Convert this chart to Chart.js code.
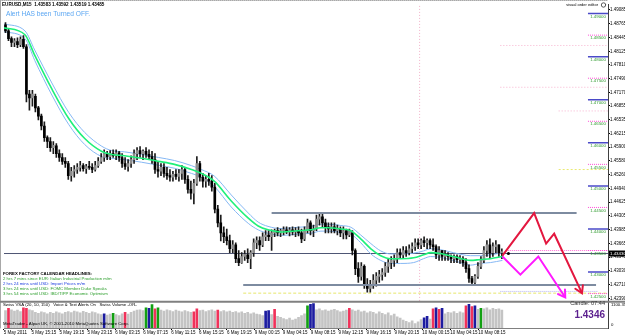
<!DOCTYPE html>
<html><head><meta charset="utf-8">
<script src="https://cdn.jsdelivr.net/npm/chart.js@4.4.1/dist/chart.umd.min.js"></script>
<style>html,body{margin:0;padding:0;background:#fff;overflow:hidden}canvas{display:block}</style>
</head><body>
<canvas id="c" width="625" height="336"></canvas>
<script>
const FONT = "'Liberation Sans', Arial, sans-serif";

// ---- price candles (EURUSD M15) ----
const opens = [1.4874,1.4860,1.4842,1.4833,1.4835,1.4828,1.4840,1.4823,1.4713,1.4704,
1.4708,1.4681,1.4662,1.4639,1.4612,1.4603,1.4589,1.4593,1.4575,1.4566,
1.4557,1.4552,1.4524,1.4534,1.4538,1.4543,1.4547,1.4540,1.4545,1.4543,
1.4538,1.4547,1.4557,1.4566,1.4575,1.4568,1.4575,1.4570,1.4577,1.4566,
1.4552,1.4545,1.4552,1.4561,1.4575,1.4582,1.4575,1.4580,1.4573,1.4568,
1.4561,1.4538,1.4534,1.4543,1.4529,1.4524,1.4520,1.4527,1.4522,1.4529,
1.4538,1.4515,1.4492,1.4483,1.4506,1.4552,1.4520,1.4511,1.4515,1.4511,
1.4497,1.4446,1.4414,1.4391,1.4382,1.4373,1.4354,1.4363,1.4331,1.4322,
1.4336,1.4340,1.4331,1.4345,1.4368,1.4373,1.4363,1.4382,1.4386,1.4382,
1.4391,1.4396,1.4391,1.4396,1.4398,1.4393,1.4398,1.4393,1.4396,1.4391,
1.4377,1.4396,1.4414,1.4396,1.4400,1.4423,1.4428,1.4414,1.4405,1.4400,
1.4405,1.4396,1.4400,1.4391,1.4396,1.4386,1.4391,1.4350,1.4308,1.4290,
1.4313,1.4271,1.4262,1.4271,1.4281,1.4290,1.4294,1.4299,1.4313,1.4322,
1.4327,1.4331,1.4345,1.4340,1.4350,1.4345,1.4354,1.4359,1.4368,1.4363,
1.4373,1.4368,1.4373,1.4363,1.4359,1.4340,1.4350,1.4336,1.4340,1.4336,
1.4331,1.4336,1.4329,1.4331,1.4322,1.4308,1.4285,1.4276,1.4290,1.4313,
1.4327,1.4350,1.4363,1.4345,1.4359,1.4363,1.4345];
const highs = [1.4879,1.4865,1.4846,1.4842,1.4844,1.4846,1.4849,1.4828,1.4722,1.4722,
1.4713,1.4685,1.4667,1.4649,1.4616,1.4612,1.4603,1.4598,1.4584,1.4575,
1.4566,1.4557,1.4543,1.4547,1.4552,1.4557,1.4552,1.4550,1.4557,1.4552,
1.4557,1.4566,1.4575,1.4584,1.4580,1.4582,1.4584,1.4584,1.4580,1.4575,
1.4566,1.4561,1.4570,1.4584,1.4589,1.4591,1.4584,1.4589,1.4584,1.4580,
1.4575,1.4557,1.4552,1.4552,1.4543,1.4538,1.4534,1.4538,1.4538,1.4547,
1.4543,1.4524,1.4511,1.4515,1.4568,1.4557,1.4529,1.4524,1.4529,1.4524,
1.4506,1.4455,1.4432,1.4405,1.4400,1.4386,1.4373,1.4368,1.4350,1.4345,
1.4350,1.4354,1.4350,1.4377,1.4382,1.4382,1.4391,1.4396,1.4396,1.4398,
1.4400,1.4403,1.4400,1.4405,1.4405,1.4403,1.4405,1.4403,1.4405,1.4400,
1.4405,1.4423,1.4419,1.4409,1.4432,1.4437,1.4437,1.4423,1.4414,1.4414,
1.4414,1.4409,1.4405,1.4405,1.4400,1.4400,1.4396,1.4354,1.4322,1.4322,
1.4317,1.4285,1.4281,1.4294,1.4299,1.4304,1.4308,1.4322,1.4331,1.4336,
1.4340,1.4354,1.4354,1.4359,1.4359,1.4363,1.4368,1.4377,1.4377,1.4377,
1.4382,1.4377,1.4377,1.4377,1.4363,1.4359,1.4350,1.4350,1.4345,1.4340,
1.4340,1.4340,1.4338,1.4336,1.4331,1.4317,1.4290,1.4294,1.4322,1.4336,
1.4359,1.4373,1.4377,1.4368,1.4373,1.4363,1.4354];
const lows = [1.4856,1.4837,1.4823,1.4823,1.4821,1.4823,1.4819,1.4695,1.4676,1.4685,
1.4672,1.4653,1.4630,1.4603,1.4589,1.4580,1.4575,1.4566,1.4557,1.4550,
1.4543,1.4515,1.4511,1.4520,1.4529,1.4534,1.4534,1.4529,1.4538,1.4531,
1.4534,1.4543,1.4552,1.4557,1.4561,1.4561,1.4566,1.4561,1.4557,1.4543,
1.4538,1.4534,1.4543,1.4552,1.4561,1.4566,1.4561,1.4566,1.4561,1.4552,
1.4529,1.4520,1.4524,1.4520,1.4515,1.4511,1.4511,1.4515,1.4511,1.4515,
1.4506,1.4483,1.4469,1.4458,1.4501,1.4511,1.4497,1.4497,1.4501,1.4488,
1.4437,1.4405,1.4372,1.4368,1.4363,1.4345,1.4345,1.4322,1.4315,1.4320,
1.4327,1.4322,1.4308,1.4336,1.4354,1.4350,1.4359,1.4373,1.4373,1.4350,
1.4382,1.4384,1.4382,1.4386,1.4389,1.4384,1.4386,1.4382,1.4384,1.4368,
1.4373,1.4391,1.4386,1.4382,1.4396,1.4409,1.4405,1.4391,1.4391,1.4391,
1.4391,1.4386,1.4382,1.4377,1.4377,1.4382,1.4340,1.4294,1.4276,1.4281,
1.4262,1.4253,1.4253,1.4262,1.4267,1.4276,1.4281,1.4290,1.4299,1.4308,
1.4313,1.4322,1.4331,1.4331,1.4336,1.4340,1.4345,1.4350,1.4354,1.4354,
1.4359,1.4354,1.4354,1.4350,1.4331,1.4327,1.4327,1.4327,1.4327,1.4322,
1.4322,1.4322,1.4320,1.4313,1.4299,1.4276,1.4271,1.4271,1.4285,1.4308,
1.4322,1.4336,1.4331,1.4336,1.4345,1.4336,1.4331];
const closes = [1.4860,1.4842,1.4833,1.4837,1.4828,1.4840,1.4823,1.4713,1.4704,1.4713,
1.4681,1.4662,1.4639,1.4612,1.4603,1.4589,1.4594,1.4575,1.4566,1.4557,
1.4552,1.4524,1.4534,1.4538,1.4543,1.4547,1.4540,1.4545,1.4543,1.4538,
1.4547,1.4557,1.4566,1.4575,1.4568,1.4575,1.4570,1.4577,1.4566,1.4552,
1.4545,1.4552,1.4561,1.4575,1.4582,1.4575,1.4580,1.4573,1.4568,1.4561,
1.4538,1.4534,1.4543,1.4529,1.4524,1.4520,1.4527,1.4522,1.4529,1.4538,
1.4515,1.4492,1.4483,1.4506,1.4552,1.4520,1.4511,1.4515,1.4511,1.4497,
1.4446,1.4414,1.4391,1.4382,1.4373,1.4354,1.4363,1.4331,1.4322,1.4336,
1.4341,1.4331,1.4345,1.4368,1.4373,1.4363,1.4382,1.4386,1.4382,1.4391,
1.4396,1.4391,1.4396,1.4398,1.4393,1.4398,1.4393,1.4396,1.4391,1.4377,
1.4396,1.4414,1.4396,1.4400,1.4423,1.4428,1.4414,1.4405,1.4400,1.4405,
1.4396,1.4400,1.4391,1.4396,1.4386,1.4396,1.4350,1.4308,1.4290,1.4313,
1.4271,1.4262,1.4271,1.4281,1.4290,1.4294,1.4299,1.4313,1.4322,1.4327,
1.4331,1.4345,1.4340,1.4350,1.4345,1.4354,1.4359,1.4368,1.4363,1.4373,
1.4368,1.4373,1.4363,1.4359,1.4340,1.4350,1.4336,1.4340,1.4336,1.4331,
1.4336,1.4329,1.4331,1.4322,1.4308,1.4285,1.4276,1.4290,1.4313,1.4327,
1.4350,1.4363,1.4345,1.4359,1.4363,1.4345,1.4346];

// ---- volume sub-window ----
const volumes = [780,880,820,760,800,740,900,880,820,780,
700,660,720,690,640,700,660,730,680,640,
700,740,690,760,720,680,750,700,660,720,
690,640,600,640,580,620,660,600,560,640,
700,620,700,760,800,820,780,900,880,1050,
860,900,800,760,820,780,740,800,760,720,
780,740,700,720,860,780,800,740,780,820,
760,800,740,780,720,760,700,740,680,720,
660,700,640,680,620,600,560,760,780,600,
840,520,480,420,380,440,360,400,480,560,
640,1000,1060,1100,820,860,780,820,760,800,
840,780,720,760,800,880,820,760,800,720,
760,680,740,700,640,720,660,600,680,560,
620,500,440,360,300,240,320,200,280,380,
460,520,400,860,900,840,880,640,700,680,
740,660,720,680,1000,1060,960,1000,840,880,
860,900,820,880,840,860,800];
const redVolBars = [1,6,7,40,50,63,64,71,90,115,143,145,154,156];
const blueVolBars = [33,48,87,88,102,103,140,141,144,146,155,157];
const greenVolBars = [36,47,49,51,101,159];

// ---- moving-average envelope ----
const maX = [-0.5,6.5,9.8,15.5,21.2,26.5,32.2,35.5,39.8,45.5,51.2,56.5,62.2,65.5,69.8,75.5,81.2,84.5,87.8,92.2,
97.8,102.2,105.5,107.8,112.2,115.5,118.8,122.2,125.5,128.8,132.2,136.5,139.8,142.2,145.5,149.8,155.5,158.8,162.2,166.2];
const maMid = [1.4867,1.4851,1.4803,1.4725,1.4656,1.4610,1.4580,1.4573,1.4570,1.4564,1.4557,1.4550,1.4538,1.4529,1.4511,1.4465,1.4425,1.4407,1.4398,1.4393,
1.4396,1.4398,1.4403,1.4403,1.4400,1.4396,1.4377,1.4354,1.4338,1.4331,1.4331,1.4333,1.4340,1.4345,1.4343,1.4336,1.4327,1.4329,1.4331,1.4336];
const maUpper = [1.4876,1.4860,1.4815,1.4739,1.4670,1.4624,1.4592,1.4582,1.4579,1.4573,1.4566,1.4559,1.4547,1.4538,1.4523,1.4479,1.4437,1.4416,1.4406,1.4401,
1.4404,1.4406,1.4411,1.4411,1.4408,1.4404,1.4386,1.4366,1.4349,1.4342,1.4342,1.4344,1.4349,1.4354,1.4352,1.4345,1.4338,1.4338,1.4340,1.4345];
const maLower = [1.4858,1.4842,1.4791,1.4711,1.4642,1.4596,1.4568,1.4564,1.4561,1.4555,1.4548,1.4541,1.4529,1.4520,1.4499,1.4451,1.4413,1.4398,1.4390,1.4385,
1.4388,1.4390,1.4395,1.4395,1.4392,1.4388,1.4368,1.4342,1.4327,1.4320,1.4320,1.4322,1.4331,1.4336,1.4334,1.4327,1.4316,1.4320,1.4322,1.4327];

// ---- drawn objects ----
const redPathX = [166.2,176.8,180.8,183.5,192.8];
const redPathY = [1.4338,1.4437,1.4366,1.4389,1.4251];
const magentaPathX = [166.2,172.2,178.2,187.2];
const magentaPathY = [1.4336,1.4294,1.4336,1.4241];
const resistanceLine = {from: 89, to: 191, value: 1.4437};
const supportLine = {from: 79.5, to: 197.5, value: 1.4270};
const bidPrice = 1.4343;
const dayBreakX = 138.5;
const levels = [1.490,1.485,1.480,1.475,1.470,1.465,1.460,1.455,1.450,1.445,1.440,1.435,1.430,1.425];
const priceTicks = [1.49085,1.48765,1.48445,1.48125,1.47810,1.47490,1.47170,1.46855,1.46535,1.46215,1.45900,
1.45580,1.45260,1.44940,1.44625,1.44305,1.43985,1.43665,1.43345,1.43030,1.42710,1.42390];
const timeLabels = ['5 May 2011','5 May 15:15','5 May 19:15','5 May 23:15','6 May 03:15','6 May 07:15','6 May 11:15',
'6 May 15:15','6 May 19:15','9 May 00:15','9 May 04:15','9 May 08:15','9 May 12:15','9 May 16:15','9 May 20:15',
'10 May 00:15','10 May 04:15','10 May 08:15'];
const barsPerLabel = 28 / 3;

const titleText = 'EURUSD,M15  1.43583 1.43592 1.43519 1.43485';
const alertText = 'Alert HAS been Turned OFF.';
const newsLines = ['FOREX FACTORY CALENDAR HEADLINES:',
 '2 hrs 7 mins since EUR: Italian Industrial Production m/m',
 '2 hrs 24 mins until USD: Import Prices m/m',
 '3 hrs 24 mins until USD: FOMC Member Duke Speaks',
 '3 hrs 54 mins until USD: IBD/TIPP Economic Optimism'];
const newsColors = ['#000','#2a9d2a','#2040e0','#2a9d2a','#2a9d2a'];
const volTitle = 'Swiss VSA (20, 10, 150)   Voice & Text Alerts On   Swiss Volume -OR-';
const footerText = 'MetaTrader - Alpari UK, \u00a9 2001-2010 MetaQuotes Software Corp.';
const candleTimer = 'Candle: 07:44';
const lastPriceText = '1.4346';

// ---------------------------------------------------
const idx = opens.map((_, i) => i);
const seg = (a, b, v) => [{x: a, y: v}, {x: b, y: v}];
const hLine = (data, color, width, dash, order) => ({type: 'line', data, borderColor: color, borderWidth: width,
  borderDash: dash || [], pointRadius: 0, order, yAxisID: 'y', tension: 0});

const datasets = [];
levels.forEach((lv, k) => {
  const whole = k % 2 === 0;
  datasets.push(hLine(seg(194.8, 201.5, lv), whole ? '#4a4ac8' : '#ff4fd8', whole ? 1.5 : 1, whole ? [] : [1, 1], 30));
});
datasets.push(hLine(seg(165.5, 201.5, 1.4826), '#f7b3cf', 1, [1, 2], 31));
datasets.push(hLine(seg(165.5, 201.5, 1.4729), '#f7b3cf', 1, [1, 2], 31));
datasets.push(hLine(seg(185, 201.5, 1.4674), '#f7b3cf', 1, [1, 2], 31));
datasets.push(hLine(seg(185, 201.5, 1.4538), '#eaea70', 1, [2, 2], 31));
datasets.push(hLine(seg(168, 201.5, 1.4350), '#ff6fd8', 1, [1, 1], 31));
datasets.push(hLine(seg(79.5, 201.5, 1.4251), '#e6e66a', 1, [3, 2], 31));
datasets.push(hLine(seg(165.5, 198, 1.4255), '#b4b4f0', 1, [1, 1], 31));
datasets.push(hLine([{x: dayBreakX, y: 1.4233}, {x: dayBreakX, y: 1.4922}], '#f2b0c8', 1, [1, 2], 31));
datasets.push(hLine(seg(-0.5, 201.5, bidPrice), '#4e5674', 1, [], 29));
// envelope
const maLine = (vals, color, w, order) => ({type: 'line', data: maX.map((x, i) => ({x, y: vals[i]})), borderColor: color,
  borderWidth: w, pointRadius: 0, cubicInterpolationMode: 'monotone', order, yAxisID: 'y'});
datasets.push(maLine(maUpper, '#86b8f4', 1, 20));
datasets.push(maLine(maLower, '#86b8f4', 1, 20));
// candles
datasets.push({type: 'bar', data: idx.map(i => ({x: i, y: [lows[i], highs[i]]})), backgroundColor: '#1c1c1c',
  barThickness: 1, grouped: false, order: 15, yAxisID: 'y'});
datasets.push({type: 'bar', data: idx.map(i => ({x: i, y: [Math.min(opens[i], closes[i]), Math.max(opens[i], closes[i])]})),
  backgroundColor: idx.map(i => closes[i] >= opens[i] ? '#8c8c8c' : '#000000'), barThickness: 2, minBarLength: 1,
  grouped: false, order: 14, yAxisID: 'y'});
datasets.push(maLine(maMid, '#1ef07a', 1.6, 12));
// trend lines
datasets.push(hLine(seg(resistanceLine.from, resistanceLine.to, resistanceLine.value), '#7d8ba0', 2, [], 10));
datasets.push(hLine(seg(supportLine.from, supportLine.to, supportLine.value), '#7d8ba0', 2, [], 10));
const magIndex = datasets.length;
datasets.push({type: 'line', data: magentaPathX.map((x, i) => ({x, y: magentaPathY[i]})), borderColor: '#ff19ff',
  borderWidth: 2, pointRadius: 0, tension: 0, order: 3, yAxisID: 'y'});
const redIndex = datasets.length;
datasets.push({type: 'line', data: redPathX.map((x, i) => ({x, y: redPathY[i]})), borderColor: '#e3173f',
  borderWidth: 2, pointRadius: 0, tension: 0, order: 2, yAxisID: 'y'});
datasets.push({type: 'line', data: [{x: 168.2, y: bidPrice}], showLine: false, pointRadius: 1.5,
  pointBackgroundColor: '#000', pointBorderWidth: 0, order: 1, yAxisID: 'y'});
// volume
const volColor = i => redVolBars.includes(i) ? '#f0325a' : blueVolBars.includes(i) ? '#1c1ca0' :
  greenVolBars.includes(i) ? '#12a012' : '#c4c4c4';
datasets.push({type: 'bar', data: idx.map(i => ({x: i, y: volumes[i]})), backgroundColor: idx.map(volColor),
  barThickness: 2, grouped: false, order: 5, yAxisID: 'yv'});

function arrowHead(ctx, meta, color) {
  const pts = meta.data;
  if (pts.length < 2) return;
  const a = pts[pts.length - 2], b = pts[pts.length - 1];
  const ang = Math.atan2(b.y - a.y, b.x - a.x);
  const L = 8;
  ctx.strokeStyle = color; ctx.lineWidth = 2; ctx.lineCap = 'round';
  ctx.beginPath();
  ctx.moveTo(b.x - L * Math.cos(ang - 0.55), b.y - L * Math.sin(ang - 0.55));
  ctx.lineTo(b.x, b.y);
  ctx.lineTo(b.x - L * Math.cos(ang + 0.55), b.y - L * Math.sin(ang + 0.55));
  ctx.stroke();
}
function txt(ctx, s, x, y, size, color, align, bold) {
  ctx.font = (bold ? 'bold ' : '') + size + 'px ' + FONT;
  ctx.fillStyle = color; ctx.textAlign = align || 'left'; ctx.textBaseline = 'middle';
  ctx.fillText(s, x, y);
}

const overlay = {
  id: 'overlay',
  beforeDraw(chart) {
    const ctx = chart.ctx;
    ctx.save(); ctx.fillStyle = '#fff'; ctx.fillRect(0, 0, chart.width, chart.height); ctx.restore();
  },
  afterDraw(chart) {
    const ctx = chart.ctx, ys = chart.scales.y, yv = chart.scales.yv, ca = chart.chartArea;
    ctx.save();
    arrowHead(ctx, chart.getDatasetMeta(redIndex), '#e3173f');
    arrowHead(ctx, chart.getDatasetMeta(magIndex), '#ff19ff');
    // frame
    ctx.strokeStyle = '#a8a8a8'; ctx.lineWidth = 1;
    ctx.setLineDash([1, 1]); ctx.beginPath(); ctx.moveTo(0, 0.5); ctx.lineTo(ca.right, 0.5); ctx.stroke();
    ctx.setLineDash([]); ctx.beginPath(); ctx.moveTo(0.5, 0); ctx.lineTo(0.5, ca.bottom); ctx.stroke();
    ctx.strokeStyle = '#808080'; ctx.lineWidth = 2;
    ctx.beginPath(); ctx.moveTo(0, ys.bottom + 0.5); ctx.lineTo(chart.width, ys.bottom + 0.5); ctx.stroke();
    // level labels
    levels.forEach(lv => txt(ctx, lv.toFixed(5), ca.right - 2, ys.getPixelForValue(lv) + 3, 4.4, '#2e9a2e', 'right'));
    // bid box
    const by = ys.getPixelForValue(bidPrice);
    ctx.fillStyle = '#000'; ctx.fillRect(ca.right + 1, by - 3, 17, 6);
    txt(ctx, bidPrice.toFixed(5), ca.right + 2, by + 0.3, 4.4, '#fff', 'left');
    // texts
    txt(ctx, titleText, 2, 5, 4.6, '#000', 'left', true);
    txt(ctx, alertText, 6, 14.5, 6.6, '#5aa6f2');
    txt(ctx, 'visual order editor', 598, 5, 4, '#000', 'right');
    ctx.strokeStyle = '#333'; ctx.lineWidth = 0.8; ctx.beginPath(); ctx.arc(603.5, 5, 2.2, 0, Math.PI * 2); ctx.stroke();
    newsLines.forEach((s, k) => txt(ctx, s, 3, 273.5 + 5.1 * k, 4.3, newsColors[k], 'left', k === 0));
    txt(ctx, volTitle, 3, yv.top + 4, 4.3, '#000');
    txt(ctx, footerText, 3, yv.bottom - 4, 4.3, '#000');
    txt(ctx, candleTimer, 605, yv.top + 2.5, 5.6, '#333', 'right');
    txt(ctx, lastPriceText, 605, yv.top + 14.5, 10, '#5b1f8e', 'right', true);
    txt(ctx, '1100.35', ca.right + 3, yv.getPixelForValue(1100) + 1, 4.3, '#000');
    txt(ctx, '0', ca.right + 3, yv.bottom - 3, 4.3, '#000');
    ctx.restore();
  }
};

new Chart(document.getElementById('c'), {
  type: 'bar',
  data: {datasets},
  options: {
    responsive: false, animation: false, parsing: true,
    layout: {padding: {left: 2, top: 1, right: 0, bottom: 0}},
    plugins: {legend: {display: false}, tooltip: {enabled: false}},
    scales: {
      x: {type: 'linear', min: -0.5, max: 201.5, offset: false,
        afterFit: s => { s.height = 8; },
        afterBuildTicks: s => { s.ticks = timeLabels.map((_, k) => ({value: k * barsPerLabel - 0.6})); },
        ticks: {autoSkip: false, maxRotation: 0, minRotation: 0, align: 'start', padding: 0, color: '#000',
          font: {size: 4.5, family: FONT}, callback: (v, i) => timeLabels[i]},
        grid: {drawOnChartArea: false, offset: false, tickLength: 2, color: '#000'},
        border: {display: true, color: '#808080'}},
      y: {type: 'linear', position: 'right', stack: 'panes', stackWeight: 300, min: 1.42322, max: 1.49223, offset: false,
        afterFit: s => { s.width = 17; },
        afterBuildTicks: s => { s.ticks = priceTicks.map(v => ({value: v})); },
        ticks: {autoSkip: false, padding: 0, color: '#000', font: {size: 4.5, family: FONT}, callback: v => v.toFixed(5)},
        grid: {drawOnChartArea: false, tickLength: 2, color: '#000'},
        border: {display: true, color: '#404040'}},
      yv: {type: 'linear', position: 'right', stack: 'panes', stackWeight: 27, min: 0, max: 1200, offset: false,
        afterFit: s => { s.width = 17; },
        ticks: {display: false}, grid: {display: false},
        border: {display: true, color: '#404040'}}
    }
  },
  plugins: [overlay]
});
</script>
</body></html>
